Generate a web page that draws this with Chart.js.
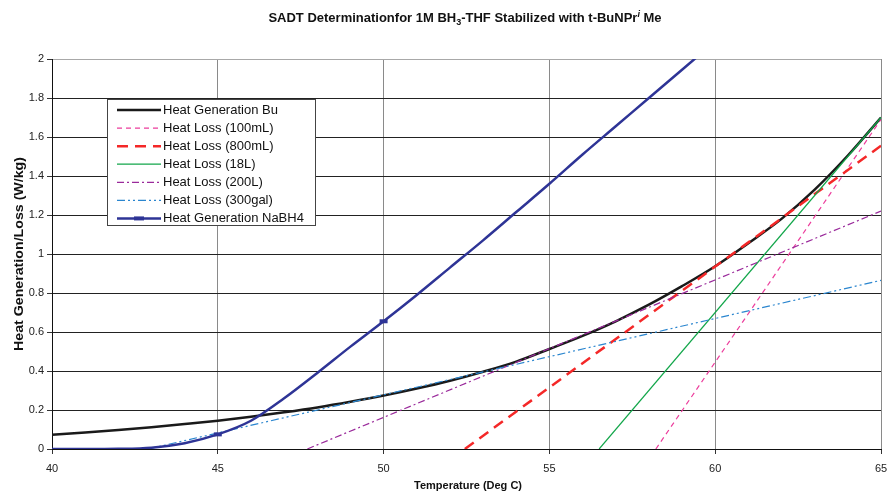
<!DOCTYPE html>
<html>
<head>
<meta charset="utf-8">
<title>SADT Determination</title>
<script src="https://cdn.jsdelivr.net/npm/chart.js@4/dist/chart.umd.min.js"></script>
<style>
  body { margin: 0; background: #fff; }
  #wrap { width: 888px; height: 493px; }
</style>
</head>
<body>
<div id="wrap"><canvas id="myChart" width="888" height="493"></canvas></div>
<script>
//Data
const temps = [40, 41, 42, 43, 44, 45, 46, 47, 48, 49, 50, 51, 52, 53, 54, 55, 56, 57, 58, 59, 60, 61, 62, 63, 64, 65];
const genBu = [0.073, 0.085, 0.098, 0.112, 0.128, 0.145, 0.165, 0.188, 0.213, 0.242, 0.274, 0.31, 0.35, 0.396, 0.448, 0.513, 0.58, 0.655, 0.74, 0.835, 0.937, 1.055, 1.18, 1.33, 1.505, 1.7];

const tempsNaBH4 = [40, 41, 42, 43, 44, 45, 46, 47, 48, 49, 50, 51, 52, 53, 54, 55, 56, 57, 58, 59, 60];
const genNaBH4 = [0, 0, 0.001, 0.007, 0.03, 0.075, 0.145, 0.26, 0.39, 0.525, 0.655, 0.79, 0.93, 1.07, 1.215, 1.36, 1.51, 1.655, 1.8, 1.945, 2.09];

// heat loss lines: [start temp, end temp] and [start value, end value]
const loss100mLT = [58.21, 65];
const loss100mL = [0, 1.69];
const loss800mLT = [52.45, 65];
const loss800mL = [0, 1.555];
const loss18LT = [56.5, 65];
const loss18L = [0, 1.7];
const loss200LT = [47.7, 65];
const loss200L = [0, 1.22];
const loss300galT = [42.9, 65];
const loss300gal = [0, 0.865];

const xTicks = [40, 45, 50, 55, 60, 65];
const yTicks = [0, 0.2, 0.4, 0.6, 0.8, 1, 1.2, 1.4, 1.6, 1.8, 2];

const seriesNames = [
  "Heat Generation Bu",
  "Heat Loss (100mL)",
  "Heat Loss (800mL)",
  "Heat Loss (18L)",
  "Heat Loss (200L)",
  "Heat Loss (300gal)",
  "Heat Generation NaBH4",
];

var ctx = document.querySelector("#myChart").getContext("2d");

function toPoints(xs, ys) {
  let pts = [];
  for (let i = 0; i < xs.length; i++) {
    pts.push({ x: xs[i], y: ys[i] });
  }
  return pts;
}

const FONT = "'Liberation Sans', Arial, sans-serif";

//Title, axis titles and legend drawn by hand
const decorations = {
  id: "decorations",
  afterDraw(chart) {
    const c = chart.ctx;
    c.save();
    c.fillStyle = "#111";
    c.textBaseline = "alphabetic";

    // title with subscript / superscript
    const parts = [
      { t: "SADT Determinationfor 1M BH", f: "bold 13px " + FONT, dy: 0 },
      { t: "3", f: "bold 9px " + FONT, dy: 3 },
      { t: "-THF Stabilized with t-BuNPr", f: "bold 13px " + FONT, dy: 0 },
      { t: "i", f: "italic bold 9px " + FONT, dy: -5 },
      { t: " Me", f: "bold 13px " + FONT, dy: 0 },
    ];
    let total = 0;
    parts.forEach((p) => {
      c.font = p.f;
      p.w = c.measureText(p.t).width;
      total += p.w;
    });
    let x = 465 - total / 2;
    parts.forEach((p) => {
      c.font = p.f;
      c.textAlign = "left";
      c.fillText(p.t, x, 21.5 + p.dy);
      x += p.w;
    });

    // axis titles
    c.font = "bold 11px " + FONT;
    c.textAlign = "center";
    c.textBaseline = "middle";
    c.fillText("Temperature (Deg C)", 468, 486);
    const yTitle = "Heat Generation/Loss (W/kg)";
    c.font = "bold 12px " + FONT;
    const yw = c.measureText(yTitle).width;
    c.save();
    c.translate(20, 254);
    c.rotate(-Math.PI / 2);
    c.scale(194 / yw, 1);
    c.fillText(yTitle, 0, 0);
    c.restore();

    // legend box
    c.fillStyle = "#fff";
    c.fillRect(107.5, 99.5, 208, 126);
    c.strokeStyle = "#444";
    c.lineWidth = 1;
    c.setLineDash([]);
    c.strokeRect(107.5, 99.5, 208, 126);

    const sets = chart.data.datasets;
    for (let i = 0; i < seriesNames.length; i++) {
      const ds = sets[i];
      const y = 110 + i * 18.07;
      c.strokeStyle = ds.borderColor;
      c.lineWidth = ds.borderWidth;
      c.setLineDash(ds.borderDash || []);
      c.beginPath();
      c.moveTo(117, y);
      c.lineTo(161, y);
      c.stroke();
      if (i == 6) {
        c.setLineDash([]);
        c.lineWidth = 4;
        c.beginPath();
        c.moveTo(134, y);
        c.lineTo(144, y);
        c.stroke();
      }
      c.fillStyle = "#111";
      c.font = "13px " + FONT;
      c.textAlign = "left";
      c.textBaseline = "middle";
      c.fillText(seriesNames[i], 163, y + 0.5);
    }
    c.restore();
  },
};

var myChart = new Chart(ctx, {
  type: "scatter",
  plugins: [decorations],
  data: {
    datasets: [
      {
        label: seriesNames[0],
        data: toPoints(temps, genBu),
        borderColor: "#1a1a1a",
        borderWidth: 2.5,
        cubicInterpolationMode: "monotone",
        order: 7,
      },
      {
        label: seriesNames[1],
        data: toPoints(loss100mLT, loss100mL),
        borderColor: "#ec3d9c",
        borderWidth: 1.2,
        borderDash: [5, 4],
        order: 6,
      },
      {
        label: seriesNames[2],
        data: toPoints(loss800mLT, loss800mL),
        borderColor: "#f42828",
        borderWidth: 2.5,
        borderDash: [11, 7],
        order: 5,
      },
      {
        label: seriesNames[3],
        data: toPoints(loss18LT, loss18L),
        borderColor: "#12a64a",
        borderWidth: 1.2,
        order: 4,
      },
      {
        label: seriesNames[4],
        data: toPoints(loss200LT, loss200L),
        borderColor: "#9a2a9b",
        borderWidth: 1.2,
        borderDash: [7, 3, 2, 3],
        order: 3,
      },
      {
        label: seriesNames[5],
        data: toPoints(loss300galT, loss300gal),
        borderColor: "#2b86cf",
        borderWidth: 1.2,
        borderDash: [8, 3, 2, 3, 2, 3],
        order: 2,
      },
      {
        label: seriesNames[6],
        data: toPoints(tempsNaBH4, genNaBH4),
        borderColor: "#2e3496",
        borderWidth: 2.5,
        cubicInterpolationMode: "monotone",
        pointStyle: "line",
        pointRadius: (c) => (c.raw && (c.raw.x == 45 || c.raw.x == 50) ? 4 : 0),
        pointBorderWidth: 4,
        pointBorderColor: "#2e3496",
        order: 1,
      },
    ],
  },
  options: {
    responsive: false,
    animation: false,
    events: [],
    showLine: true,
    elements: { point: { radius: 0 } },
    layout: { padding: { top: 59, right: 7, left: 0, bottom: 0 } },
    plugins: {
      legend: { display: false },
      title: { display: false },
      tooltip: { enabled: false },
    },
    scales: {
      x: {
        type: "linear",
        min: 40,
        max: 65,
        afterBuildTicks: (scale) => {
          scale.ticks = xTicks.map((v) => ({ value: v }));
        },
        afterFit: (scale) => {
          scale.height = 44;
          scale.paddingLeft = 0;
          scale.paddingRight = 0;
        },
        ticks: {
          font: { family: FONT, size: 11 },
          color: "#222",
          padding: 8,
          maxRotation: 0,
        },
        grid: { color: "#8a8a8a", tickLength: 5, tickColor: "#333" },
        border: { color: "#111", width: 1 },
      },
      y: {
        type: "linear",
        min: 0,
        max: 2,
        afterBuildTicks: (scale) => {
          scale.ticks = yTicks.map((v) => ({ value: v }));
        },
        afterFit: (scale) => {
          scale.width = 52;
          scale.paddingTop = 0;
          scale.paddingBottom = 0;
        },
        ticks: {
          font: { family: FONT, size: 11 },
          color: "#222",
          padding: 3,
          callback: (v) => String(v),
        },
        grid: {
          color: (c) => (c.tick && c.tick.value == 2 ? "#a8a8a8" : "#222"),
          tickLength: 5,
          tickColor: "#333",
        },
        border: { color: "#111", width: 1 },
      },
    },
  },
});
</script>
</body>
</html>
